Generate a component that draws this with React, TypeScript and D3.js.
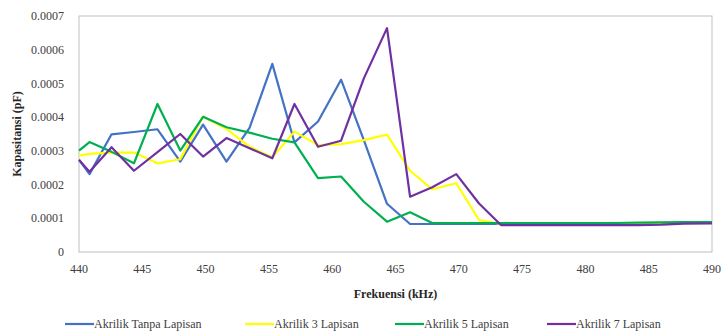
import React from "react";
import * as d3 from "d3";

const frequencies = [
  440, 440.83, 442.57, 444.34, 446.2, 448.0, 449.8, 451.65, 453.47, 455.27,
  457.02, 458.88, 460.7, 462.5, 464.33, 466.15, 467.9, 469.8, 471.6, 473.33,
  475.15, 476.97, 478.8, 480.6, 482.4, 484.2, 486.0, 487.8, 490.0,
];

const tanpaLapisan = [
  0.000274, 0.000231, 0.000349, 0.000356, 0.000364, 0.000268, 0.000378, 0.000268, 0.000368, 0.000558,
  0.000325, 0.000387, 0.000511, 0.000332, 0.000143, 0.000083, 0.000083, 0.000083, 0.000083, 0.000083,
  0.000083, 0.000083, 0.000083, 0.000083, 0.000083, 0.000084, 0.000086, 0.000087, 0.000088,
];

const lapisan3 = [
  0.000286, 0.000291, 0.000295, 0.000295, 0.000263, 0.000275, 0.000402, 0.000365, 0.000312, 0.000281,
  0.000357, 0.000317, 0.00032, 0.000332, 0.000348, 0.000241, 0.000186, 0.000204, 0.000095, 0.000083,
  0.000083, 0.000083, 0.000083, 0.000083, 0.000083, 0.000084, 0.000086, 0.000087, 0.000088,
];

const lapisan5 = [
  0.000301, 0.000326, 0.000297, 0.000263, 0.000439, 0.000301, 0.000401, 0.00037, 0.000354, 0.000336,
  0.000325, 0.000219, 0.000224, 0.000149, 0.00009, 0.000118, 0.000086, 0.000086, 0.000086, 0.000086,
  0.000086, 0.000086, 0.000086, 0.000086, 0.000086, 0.000087, 0.000088, 0.000089, 0.000089,
];

const lapisan7 = [
  0.000273, 0.000238, 0.000311, 0.000241, 0.000296, 0.00035, 0.000283, 0.000338, 0.000308, 0.000278,
  0.000439, 0.000312, 0.00033, 0.000515, 0.000664, 0.000164, 0.000192, 0.000231, 0.000144, 0.00008,
  0.00008, 0.00008, 0.00008, 0.00008, 0.00008, 0.00008, 0.000081, 0.000084, 0.000085,
];

const seriesNames = ["Akrilik Tanpa Lapisan", "Akrilik 3 Lapisan", "Akrilik 5 Lapisan", "Akrilik 7 Lapisan"];
const seriesValues = [tanpaLapisan, lapisan3, lapisan5, lapisan7];
const seriesColors = ["#4472C4", "#FFFF00", "#00B050", "#7030A0"];

const xTicks = [440, 445, 450, 455, 460, 465, 470, 475, 480, 485, 490];
const yTicks = [0, 0.0001, 0.0002, 0.0003, 0.0004, 0.0005, 0.0006, 0.0007];

const xTitle = "Frekuensi (kHz)";
const yTitle = "Kapasitansi (pF)";

const W = 723;
const H = 335;
const plot = { left: 79, right: 712, top: 16, bottom: 252 };
const font = "'Liberation Serif', 'Times New Roman', serif";

export default function App() {
  const x = d3.scaleLinear().domain([440, 490]).range([plot.left, plot.right]);
  const y = d3.scaleLinear().domain([0, 0.0007]).range([plot.bottom, plot.top]);
  const line = d3
    .line<number>()
    .x((_, i) => x(frequencies[i]))
    .y((d) => y(d));

  const legendX = [65, 245, 395, 547];

  return (
    <svg
      width={W}
      height={H}
      style={{ position: "absolute", left: 0, top: 0, background: "#fff" }}
      fontFamily={font}
    >
      <rect x={0} y={0} width={W} height={H} fill="#fff" />
      <rect
        x={plot.left}
        y={plot.top}
        width={plot.right - plot.left}
        height={plot.bottom - plot.top}
        fill="none"
        stroke="#bfbfbf"
        strokeWidth={1}
      />
      {yTicks.map((t) => (
        <text
          key={"y" + t}
          x={plot.left - 15}
          y={y(t)}
          dy="0.35em"
          textAnchor="end"
          fontSize={12}
          fill="#404040"
        >
          {t === 0 ? "0" : t.toFixed(4)}
        </text>
      ))}
      {xTicks.map((t) => (
        <text
          key={"x" + t}
          x={x(t)}
          y={273}
          textAnchor="middle"
          fontSize={12}
          fill="#404040"
        >
          {t}
        </text>
      ))}
      <text
        x={(plot.left + plot.right) / 2}
        y={298}
        textAnchor="middle"
        fontSize={12}
        fontWeight="bold"
        fill="#262626"
      >
        {xTitle}
      </text>
      <text
        transform={`translate(21, ${(plot.top + plot.bottom) / 2}) rotate(-90)`}
        textAnchor="middle"
        fontSize={12}
        fontWeight="bold"
        fill="#262626"
      >
        {yTitle}
      </text>
      {seriesValues.map((vals, i) => (
        <path
          key={"s" + i}
          d={line(vals) || ""}
          fill="none"
          stroke={seriesColors[i]}
          strokeWidth={2.2}
          strokeLinejoin="round"
        />
      ))}
      {seriesNames.map((name, i) => (
        <g key={"l" + i} transform={`translate(${legendX[i]}, 324)`}>
          <line x1={0} x2={29} y1={0} y2={0} stroke={seriesColors[i]} strokeWidth={2.2} />
          <text x={29} y={0} dy="0.35em" fontSize={12} fill="#404040">
            {name}
          </text>
        </g>
      ))}
    </svg>
  );
}
